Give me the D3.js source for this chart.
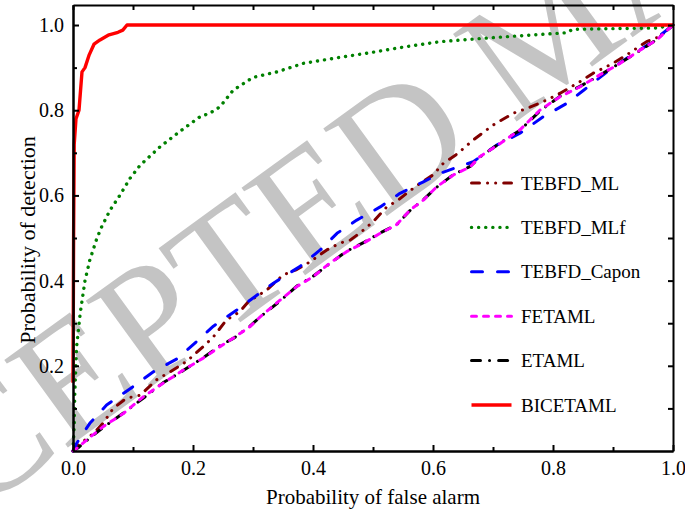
<!DOCTYPE html>
<html>
<head>
<meta charset="utf-8">
<script src="https://cdn.jsdelivr.net/npm/d3@7"></script>
<style>
  body { margin: 0; background: #fff; }
  svg { display: block; }
  text { font-family: "Liberation Serif", "Times New Roman", serif; fill: #000; }
</style>
</head>
<body>
<svg width="685" height="516"></svg>
<script>
// series as [Pfa, Pd]
var tebfdML = [[0,0],[0.009,0.014],[0.034,0.041],[0.05,0.065],[0.067,0.1],[0.089,0.124],[0.112,0.131],[0.139,0.167],[0.162,0.186],[0.189,0.21],[0.217,0.245],[0.234,0.268],[0.256,0.308],[0.278,0.327],[0.292,0.35],[0.323,0.378],[0.35,0.413],[0.373,0.426],[0.395,0.444],[0.423,0.472],[0.445,0.488],[0.462,0.495],[0.481,0.515],[0.5,0.538],[0.523,0.573],[0.542,0.589],[0.556,0.605],[0.578,0.628],[0.6,0.648],[0.617,0.675],[0.64,0.697],[0.667,0.73],[0.7,0.765],[0.734,0.793],[0.756,0.804],[0.79,0.824],[0.812,0.84],[0.845,0.867],[0.867,0.887],[0.9,0.91],[0.923,0.93],[0.956,0.961],[0.978,0.973],[1,1]];
var tebfdMLf = [[0,0],[0.002,0.06],[0.003,0.135],[0.006,0.245],[0.012,0.323],[0.02,0.4],[0.028,0.448],[0.04,0.5],[0.048,0.527],[0.062,0.566],[0.078,0.6],[0.095,0.64],[0.112,0.671],[0.145,0.714],[0.178,0.75],[0.212,0.785],[0.228,0.793],[0.245,0.808],[0.267,0.847],[0.3,0.877],[0.34,0.89],[0.384,0.91],[0.44,0.923],[0.495,0.935],[0.55,0.948],[0.612,0.961],[0.695,0.97],[0.823,0.982],[0.833,0.99],[0.973,0.993],[1,1]];
var tebfdCapon = [[0,0],[0.006,0.018],[0.028,0.065],[0.056,0.108],[0.1,0.151],[0.134,0.186],[0.173,0.216],[0.206,0.257],[0.234,0.293],[0.273,0.331],[0.295,0.354],[0.334,0.394],[0.378,0.433],[0.412,0.472],[0.44,0.511],[0.473,0.542],[0.512,0.573],[0.545,0.605],[0.584,0.632],[0.612,0.652],[0.628,0.66],[0.667,0.679],[0.706,0.718],[0.745,0.746],[0.784,0.785],[0.823,0.816],[0.851,0.847],[0.89,0.89],[0.923,0.922],[0.962,0.957],[1,1]];
var fetaml = [[0,0],[0.006,0.006],[0.023,0.026],[0.05,0.057],[0.084,0.088],[0.117,0.127],[0.15,0.159],[0.184,0.19],[0.217,0.218],[0.245,0.245],[0.267,0.265],[0.295,0.292],[0.312,0.315],[0.345,0.354],[0.373,0.386],[0.4,0.409],[0.428,0.441],[0.456,0.468],[0.484,0.488],[0.512,0.511],[0.539,0.531],[0.562,0.566],[0.584,0.589],[0.606,0.62],[0.634,0.648],[0.662,0.667],[0.678,0.691],[0.712,0.722],[0.745,0.754],[0.778,0.8],[0.812,0.832],[0.845,0.855],[0.878,0.883],[0.912,0.91],[0.945,0.941],[0.973,0.965],[1,1]];
var etaml = [[0,0],[0.008,0.007],[0.025,0.027],[0.05,0.055],[0.085,0.09],[0.118,0.125],[0.15,0.16],[0.185,0.19],[0.218,0.22],[0.245,0.247],[0.268,0.265],[0.295,0.293],[0.313,0.316],[0.345,0.352],[0.373,0.387],[0.4,0.41],[0.428,0.44],[0.456,0.469],[0.484,0.489],[0.512,0.512],[0.54,0.532],[0.562,0.565],[0.584,0.59],[0.606,0.619],[0.634,0.649],[0.662,0.668],[0.678,0.69],[0.712,0.723],[0.745,0.753],[0.778,0.798],[0.812,0.833],[0.845,0.856],[0.878,0.882],[0.912,0.911],[0.945,0.94],[0.973,0.966],[1,1]];
var bicetaml = [[0,0.16],[0.001,0.5],[0.002,0.72],[0.005,0.78],[0.01,0.8],[0.015,0.89],[0.02,0.9],[0.027,0.93],[0.035,0.955],[0.045,0.965],[0.06,0.977],[0.075,0.983],[0.083,0.988],[0.09,1],[1,1]];

var seriesNames = ["TEBFD_ML", "TEBFD_MLf", "TEBFD_Capon", "FETAML", "ETAML", "BICETAML"];
var seriesData = [tebfdML, tebfdMLf, tebfdCapon, fetaml, etaml, bicetaml];
var seriesColors = ["#800000", "#008000", "#0000ff", "#ff00ff", "#000000", "#ff0000"];
// round caps add about 3px to every dash
var seriesDash = ["8,8,0.1,8,0.1,8", "0.1,7", "11,15", "5,7", "9,9,0.1,9", null];
var seriesWidth = [3, 3.4, 3, 3, 3, 3.4];
// drawing order: the red on top, black under magenta
var drawOrder = [1, 0, 2, 4, 3, 5];

var xMajor = [0, 0.2, 0.4, 0.6, 0.8, 1.0];
var yMajor = [0.2, 0.4, 0.6, 0.8, 1.0];
var minorTicks = [0.1, 0.3, 0.5, 0.7, 0.9];

var svg = d3.select("svg"),
  width = +svg.attr("width"),
  height = +svg.attr("height");

var x = d3.scaleLinear().domain([0, 1]).range([73, 673]);
var y = d3.scaleLinear().domain([0, 1.047]).range([451, 5]);

// watermark, behind everything
svg.append("text")
  .attr("transform", "translate(-25,515) rotate(-36)")
  .style("font-size", "165px")
  .style("fill", "#c4c4c4")
  .text("CEPTED MANUSCRIPT");

// curves
var line = d3.line()
  .x(function(d) { return x(d[0]); })
  .y(function(d) { return y(d[1]); });

drawOrder.forEach(function(i) {
  svg.append("path")
    .datum(seriesData[i])
    .attr("fill", "none")
    .attr("stroke", seriesColors[i])
    .attr("stroke-width", seriesWidth[i])
    .attr("stroke-linecap", seriesDash[i] ? "round" : "butt")
    .attr("stroke-linejoin", "round")
    .attr("stroke-dasharray", seriesDash[i])
    .attr("d", line);
});

// axes, ticks pointing inward
function styleAxis(g) {
  g.attr("font-family", null);
  g.selectAll("path, line").attr("stroke", "#000").attr("stroke-width", 2);
  g.selectAll("text").style("font-size", "20px").attr("fill", "#000");
}
var fmt = d3.format(".1f");

svg.append("g").attr("transform", "translate(0,451)")
  .call(d3.axisBottom(x).tickValues(xMajor).tickSizeInner(-6).tickSizeOuter(0).tickPadding(10).tickFormat(fmt))
  .call(styleAxis);
svg.append("g").attr("transform", "translate(0,451)")
  .call(d3.axisBottom(x).tickValues(minorTicks).tickSizeInner(-4).tickSizeOuter(0).tickFormat(""))
  .call(styleAxis);
svg.append("g").attr("transform", "translate(0,5)")
  .call(d3.axisTop(x).tickValues(xMajor.concat(minorTicks)).tickSizeInner(-5).tickSizeOuter(0).tickFormat(""))
  .call(styleAxis);

svg.append("g").attr("transform", "translate(73,0)")
  .call(d3.axisLeft(y).tickValues(yMajor).tickSizeInner(-6).tickSizeOuter(0).tickPadding(9).tickFormat(fmt))
  .call(styleAxis);
svg.append("g").attr("transform", "translate(73,0)")
  .call(d3.axisLeft(y).tickValues(minorTicks).tickSizeInner(-4).tickSizeOuter(0).tickFormat(""))
  .call(styleAxis);
svg.append("g").attr("transform", "translate(673,0)")
  .call(d3.axisRight(y).tickValues(yMajor.concat(minorTicks)).tickSizeInner(-5).tickSizeOuter(0).tickFormat(""))
  .call(styleAxis);

// axis titles
svg.append("text")
  .attr("x", (x(0) + x(1)) / 2)
  .attr("y", 504)
  .attr("text-anchor", "middle")
  .style("font-size", "21px")
  .text("Probability of false alarm");

svg.append("text")
  .attr("transform", "translate(35," + ((y(0) + y(1.047)) / 2 + 12) + ") rotate(-90)")
  .attr("text-anchor", "middle")
  .style("font-size", "22px")
  .text("Probability of detection");

// legend
var legend = svg.append("g").attr("transform", "translate(470,183)");
seriesNames.forEach(function(name, i) {
  var row = legend.append("g").attr("transform", "translate(0," + (i * 44.4) + ")");
  row.append("line")
    .attr("x1", 1.5).attr("x2", 41.5)
    .attr("stroke", seriesColors[i])
    .attr("stroke-width", seriesWidth[i])
    .attr("stroke-linecap", seriesDash[i] ? "round" : "butt")
    .attr("stroke-dasharray", seriesDash[i]);
  row.append("text")
    .attr("x", 51)
    .attr("dy", "0.35em")
    .style("font-size", "19px")
    .text(name);
});
</script>
</body>
</html>
